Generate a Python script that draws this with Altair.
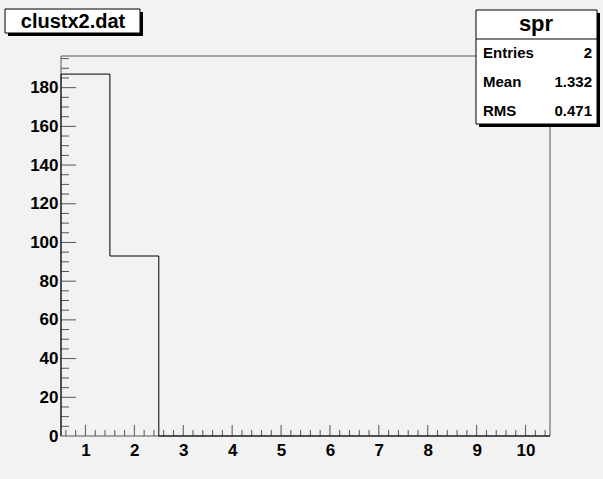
import altair as alt
import pandas as pd

# ---- data ----
bin_centers = [1, 2, 3, 4, 5, 6, 7, 8, 9, 10]
bin_counts = [187, 93, 0, 0, 0, 0, 0, 0, 0, 0]
x_tick_labels = [1, 2, 3, 4, 5, 6, 7, 8, 9, 10]
y_tick_labels = [0, 20, 40, 60, 80, 100, 120, 140, 160, 180]
title_text = "clustx2.dat"
stats_title = "spr"
stat_labels = ["Entries", "Mean", "RMS"]
stat_values = ["2", "1.332", "0.471"]

W, H = 489, 380
FONT = "Liberation Sans"
AXC = "#555555"
x_dom = [0.5, 10.5]
y_dom = [0, max(bin_counts) * 1.05]

xs = alt.Scale(domain=x_dom, nice=False, zero=False)
ys = alt.Scale(domain=y_dom, nice=False, zero=True)

# step outline
step_x = [bin_centers[0] - 0.5] + [c - 0.5 for c in bin_centers] + [bin_centers[-1] + 0.5]
step_y = [0] + bin_counts + [0]
step_df = pd.DataFrame({"x": step_x, "y": step_y, "o": list(range(len(step_x)))})

one = alt.Data(values=[{"a": 1}])

hist = alt.Chart(step_df).mark_line(interpolate="step-after", color="black", strokeWidth=1).encode(
    x=alt.X("x:Q", scale=xs, axis=alt.Axis(values=x_tick_labels, ticks=False, domain=False, grid=False,
                                            labelFont=FONT, labelFontWeight="bold", labelFontSize=17,
                                            labelColor="black", labelPadding=6, title=None, labelFlush=False)),
    y=alt.Y("y:Q", scale=ys, axis=alt.Axis(values=y_tick_labels, ticks=False, domain=False, grid=False,
                                            labelFont=FONT, labelFontWeight="bold", labelFontSize=17,
                                            labelColor="black", labelPadding=3, title=None, labelFlush=False)),
    order="o:Q",
)

# ticks
x_major = pd.DataFrame({"p": [float(v) for v in bin_centers]})
x_minor = pd.DataFrame({"p": [round(0.6 + 0.2 * i, 2) for i in range(50) if abs((0.6 + 0.2 * i) - round(0.6 + 0.2 * i)) > 1e-6]})
y_major = pd.DataFrame({"p": [float(v) for v in y_tick_labels if v > 0]})
y_minor = pd.DataFrame({"p": [5.0 * i for i in range(1, 40) if (5 * i) % 20 != 0 and 5 * i < y_dom[1]]})

xt_major = alt.Chart(x_major).mark_rule(color=AXC).encode(x=alt.X("p:Q", scale=xs), y=alt.value(H), y2=alt.value(H - 11))
xt_minor = alt.Chart(x_minor).mark_rule(color=AXC).encode(x=alt.X("p:Q", scale=xs), y=alt.value(H), y2=alt.value(H - 6))
yt_major = alt.Chart(y_major).mark_rule(color=AXC).encode(y=alt.Y("p:Q", scale=ys), x=alt.value(0), x2=alt.value(15))
yt_minor = alt.Chart(y_minor).mark_rule(color=AXC).encode(y=alt.Y("p:Q", scale=ys), x=alt.value(0), x2=alt.value(8))

# frame
def rule(x1, x2, y1, y2, color=AXC):
    return alt.Chart(one).mark_rule(color=color, strokeWidth=1).encode(
        x=alt.value(x1), x2=alt.value(x2), y=alt.value(y1), y2=alt.value(y2))

frame = [
    rule(0, 0, 0, H),
    rule(0, W, H, H),
    rule(0, W, 0, 0),
    rule(W, W, 0, H),
]

def box(x1, x2, y1, y2, sh=3):
    shadow = alt.Chart(one).mark_rect(color="black").encode(
        x=alt.value(x1 + sh), x2=alt.value(x2 + sh), y=alt.value(y1 + sh), y2=alt.value(y2 + sh))
    main = alt.Chart(one).mark_rect(fill="white", stroke="black", strokeWidth=1).encode(
        x=alt.value(x1), x2=alt.value(x2), y=alt.value(y1), y2=alt.value(y2))
    return [shadow, main]

def text(x, y, t, size, align="center"):
    return alt.Chart(one).mark_text(font=FONT, fontWeight="bold", fontSize=size, align=align,
                                    baseline="alphabetic", color="black").encode(
        x=alt.value(x), y=alt.value(y), text=alt.value(t))

title_layers = box(-56, 79, -47, -23) + [text(12, -28, title_text, 20)]

stats_layers = box(415, 536, -46, 68) + [
    rule(415, 536, -17, -17, color="black"),
    text(475, -25, stats_title, 22),
]
for i, (lab, val) in enumerate(zip(stat_labels, stat_values)):
    yb = 1.5 + 29 * i
    stats_layers.append(text(422, yb, lab, 15, align="left"))
    stats_layers.append(text(531, yb, val, 15, align="right"))

chart = alt.layer(
    xt_major, xt_minor, yt_major, yt_minor, *frame, hist, *title_layers, *stats_layers
).properties(
    width=W, height=H,
    autosize=alt.AutoSizeParams(type="none"),
    padding={"left": 61, "top": 56, "right": 603 - 61 - W, "bottom": 479 - 56 - H},
).configure(background="#f2f2f2").configure_view(stroke=None)

chart.save("out.html", embed_options={"renderer": "svg", "actions": False})
